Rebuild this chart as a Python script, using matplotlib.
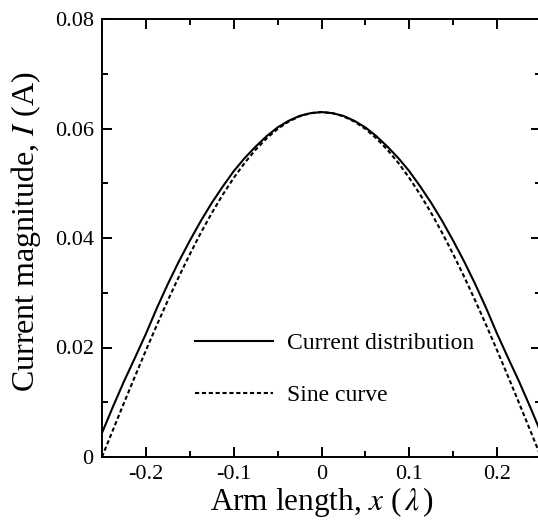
import matplotlib
matplotlib.use("Agg")
import matplotlib.pyplot as plt
from matplotlib.ticker import MultipleLocator, FuncFormatter

# arm position (wavelengths)
x_pos = [-0.25, -0.2375, -0.225, -0.2125, -0.2, -0.1875, -0.175, -0.1625,
         -0.15, -0.1375, -0.125, -0.1125, -0.1, -0.0875, -0.075, -0.0625,
         -0.05, -0.0375, -0.025, -0.0125, 0.0, 0.0125, 0.025, 0.0375, 0.05,
         0.0625, 0.075, 0.0875, 0.1, 0.1125, 0.125, 0.1375, 0.15, 0.1625,
         0.175, 0.1875, 0.2, 0.2125, 0.225, 0.2375, 0.25]

# computed current distribution (A)
current = [0.0044, 0.0092, 0.0138, 0.0181, 0.0225, 0.0272, 0.0316, 0.0357,
           0.0395, 0.0431, 0.0464, 0.0494, 0.0522, 0.0546, 0.0567, 0.0586,
           0.0602, 0.0614, 0.0623, 0.0628, 0.0630, 0.0628, 0.0623, 0.0614,
           0.0602, 0.0586, 0.0567, 0.0546, 0.0522, 0.0494, 0.0464, 0.0431,
           0.0395, 0.0357, 0.0316, 0.0272, 0.0225, 0.0181, 0.0138, 0.0092,
           0.0044]

# reference sine curve (A)
sine = [0.0, 0.00494, 0.00986, 0.01471, 0.01947, 0.02411, 0.02860, 0.03292,
        0.03703, 0.04092, 0.04455, 0.04791, 0.05097, 0.05372, 0.05613,
        0.05820, 0.05992, 0.06126, 0.06222, 0.06281, 0.0630, 0.06281,
        0.06222, 0.06126, 0.05992, 0.05820, 0.05613, 0.05372, 0.05097,
        0.04791, 0.04455, 0.04092, 0.03703, 0.03292, 0.02860, 0.02411,
        0.01947, 0.01471, 0.00986, 0.00494, 0.0]

plt.rcParams['font.family'] = ['Liberation Serif', 'DejaVu Serif']
plt.rcParams['mathtext.fontset'] = 'stix'

W, H = 538, 522
fig = plt.figure(figsize=(W / 100, H / 100), dpi=100)
left, right, top, bottom = 102, 541, 19, 457
ax = fig.add_axes([left / W, 1 - bottom / H, (right - left) / W, (bottom - top) / H])

ax.plot(x_pos, current, color='black', lw=1.5, label='Current distribution')
ax.plot(x_pos, sine, color='black', lw=1.5, linestyle=(0, (2, 1.3)),
        label='Sine curve')

ax.set_xlim(-0.25, 0.25)
ax.set_ylim(0, 0.08)

ax.xaxis.set_major_locator(MultipleLocator(0.1))
ax.xaxis.set_minor_locator(MultipleLocator(0.05))
ax.yaxis.set_major_locator(MultipleLocator(0.02))
ax.yaxis.set_minor_locator(MultipleLocator(0.01))


def fmt(v, pos):
    if abs(v) < 1e-9:
        return '0'
    return ('%g' % round(v, 3)).replace('\u2212', '-')


ax.xaxis.set_major_formatter(FuncFormatter(fmt))
ax.yaxis.set_major_formatter(FuncFormatter(fmt))

ax.tick_params(which='both', direction='in', top=True, right=True, width=1.4,
               labelsize=16)
ax.tick_params(which='major', length=7.5, pad=6)
ax.tick_params(which='minor', length=4.3)
for s in ax.spines.values():
    s.set_linewidth(1.4)

ax.set_xlabel('Arm length, $x$ ($\\,\\lambda\\,$)', fontsize=22.5)
ax.xaxis.set_label_coords(0.5, -0.064)
ax.xaxis.label.set_va('top')
ax.set_ylabel('Current magnitude, $I$ (A)', fontsize=23)
ax.yaxis.set_label_coords(-0.135, 0.515)

ax.legend(loc='upper left', bbox_to_anchor=(0.212, 0.284), frameon=False,
          fontsize=17, handlelength=3.3, handletextpad=0.6, labelspacing=1.3,
          borderpad=0, borderaxespad=0)

fig.savefig('out.png', dpi=100)
